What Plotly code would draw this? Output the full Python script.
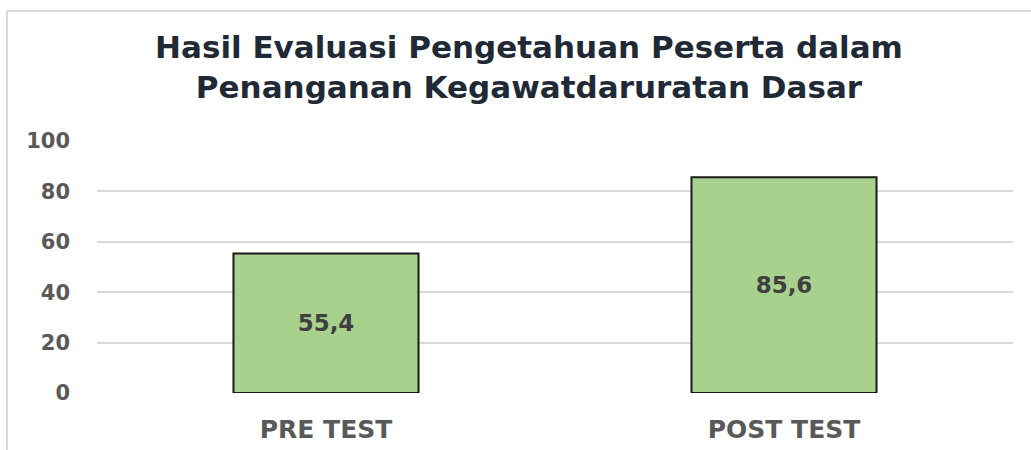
import plotly.graph_objects as go

categories = ["PRE TEST", "POST TEST"]
values = [55.4, 85.6]
value_labels = ["55,4", "85,6"]
y_ticks = [0, 20, 40, 60, 80, 100]

W, H = 1031, 450
L, R, T, B = 97, 18, 141, 57
pw, ph = W - L - R, H - T - B

fig = go.Figure(go.Bar(
    x=categories, y=values,
    text=value_labels, textposition="inside", insidetextanchor="middle",
    textfont=dict(family="DejaVu Sans", size=23, color="#404040", weight="bold"),
    marker=dict(color="#a9d18e", line=dict(color="#1a1a1a", width=2)),
    cliponaxis=False,
))

def px_x(x):
    return (x - L) / pw

def px_y(y):
    return (H - B - y) / ph

fig.update_layout(
    width=W, height=H,
    margin=dict(l=L, r=R, t=T, b=B),
    paper_bgcolor="white", plot_bgcolor="white",
    bargap=0.596,
    showlegend=False,
    title=dict(
        text="Hasil Evaluasi Pengetahuan Peserta dalam<br>Penanganan Kegawatdaruratan Dasar",
        x=529 / W, xanchor="center", y=1 - 58 / H, yanchor="middle",
        yref="container", xref="container",
        font=dict(family="DejaVu Sans", size=31, color="#1f2a36", weight="bold"),
    ),
    xaxis=dict(
        showgrid=False, showline=False, zeroline=False, ticks="",
        tickfont=dict(family="DejaVu Sans", size=25, color="#595959", weight="bold"),
        ticklabelstandoff=19, automargin=False,
    ),
    yaxis=dict(
        range=[0, 100], tickvals=y_ticks,
        showgrid=True, gridcolor="#d9d9d9", gridwidth=2,
        zeroline=False, showline=False, ticks="",
        tickfont=dict(family="DejaVu Sans", size=21, color="#595959", weight="bold"),
        ticklabelstandoff=26, automargin=False,
    ),
    shapes=[
        dict(type="line", xref="paper", yref="paper",
             x0=px_x(7), x1=px_x(1031), y0=px_y(11), y1=px_y(11),
             line=dict(color="#d9d9d9", width=2)),
        dict(type="line", xref="paper", yref="paper",
             x0=px_x(7), x1=px_x(7), y0=px_y(11), y1=px_y(450),
             line=dict(color="#d9d9d9", width=2)),
    ],
)

fig.write_html("out.html", config={"displayModeBar": False},
               post_script="document.body.style.margin='0';")
